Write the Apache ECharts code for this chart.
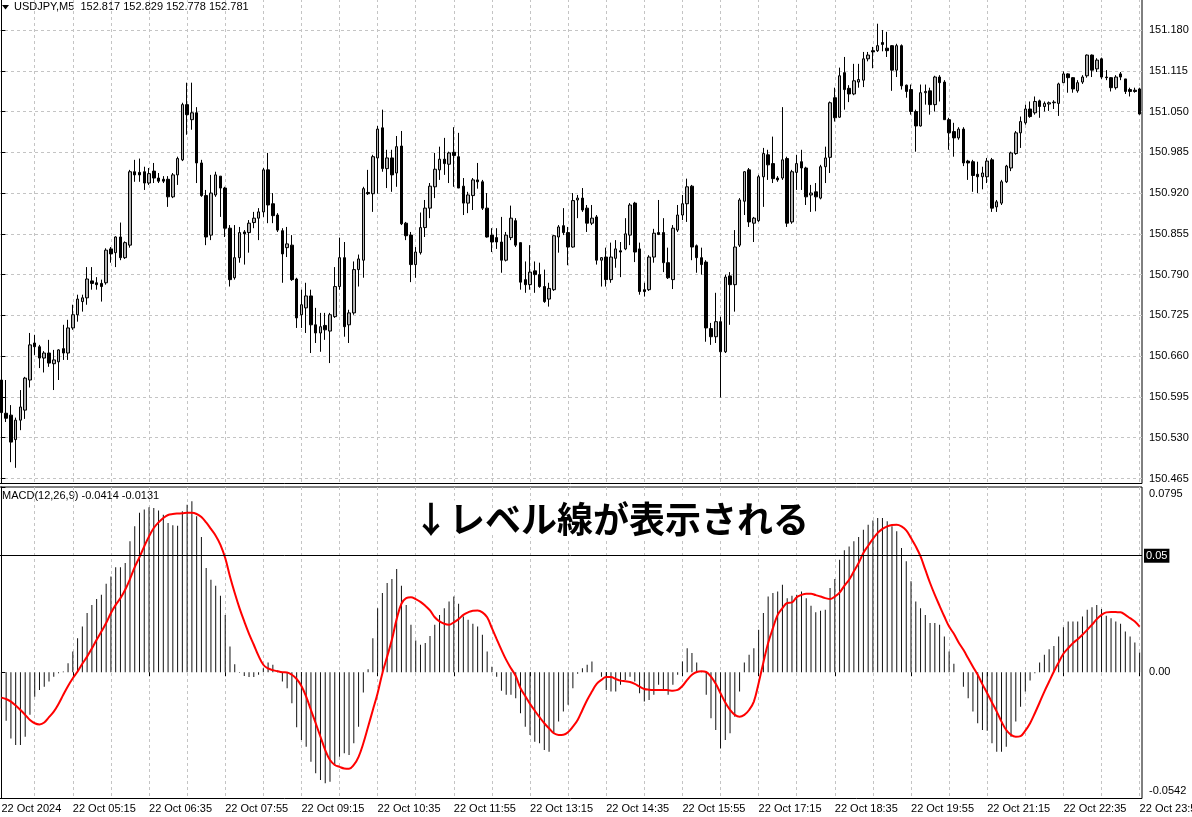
<!DOCTYPE html>
<html><head><meta charset="utf-8">
<script src="https://cdn.jsdelivr.net/npm/echarts@6/dist/echarts.min.js"></script>
<style>html,body{margin:0;padding:0;background:#fff}#c{width:1192px;height:817px}</style>
</head><body><div id="c"></div><script>
const opens=[150.622,150.569,150.566,150.527,150.558,150.574,150.622,150.681,150.675,150.657,
150.665,150.648,150.651,150.672,150.665,150.705,150.726,150.747,150.753,150.780,
150.777,150.776,150.777,150.831,150.825,150.850,150.817,150.837,150.954,150.953,
150.954,150.936,150.955,150.944,150.942,150.942,150.914,150.949,150.973,151.061,
151.037,151.048,150.968,150.916,150.853,150.917,150.947,150.928,150.864,150.785,
150.817,150.858,150.857,150.873,150.880,150.890,150.957,150.903,150.885,150.860,
150.833,150.837,150.783,150.726,150.737,150.756,150.710,150.697,150.709,150.700,
150.723,150.771,150.817,150.710,150.729,150.798,150.813,150.921,150.919,150.976,
151.024,150.959,150.976,150.952,150.995,150.872,150.853,150.806,150.825,150.865,
150.896,150.930,150.957,150.974,150.966,150.985,150.978,150.931,150.904,150.916,
150.941,150.938,150.896,150.853,150.849,150.842,150.813,150.849,150.876,150.841,
150.782,150.774,150.796,150.790,150.771,150.751,150.766,150.850,150.868,150.857,
150.834,150.909,150.912,150.896,150.872,150.882,150.813,150.818,150.782,150.816,
150.828,150.831,150.853,150.904,150.831,150.766,150.766,150.818,150.857,150.857,
150.809,150.782,150.861,150.885,150.903,150.931,150.836,150.817,150.810,150.704,
150.691,150.715,150.667,150.788,150.774,150.837,150.907,150.957,150.872,150.876,
150.946,150.981,150.967,150.944,150.944,150.975,150.874,150.953,150.970,150.960,
150.917,150.922,150.912,150.962,150.977,151.072,151.041,151.112,151.087,151.078,
151.097,151.100,151.134,151.147,151.147,151.160,151.151,151.155,151.116,151.155,
151.092,151.085,151.050,151.027,151.080,151.083,151.061,151.105,151.097,151.037,
151.018,151.008,151.022,150.971,150.970,150.950,150.946,150.946,150.973,150.898,
150.904,150.938,150.960,150.983,151.016,151.032,151.054,151.048,151.067,151.058,
151.062,151.064,151.063,151.096,151.110,151.104,151.083,151.097,151.107,151.140,
151.118,151.134,151.105,151.104,151.088,151.110,151.102,151.085,151.084,151.086];
const closes=[150.570,150.561,150.523,150.558,150.579,150.625,150.678,150.675,150.657,150.665,
150.649,150.654,150.670,150.665,150.705,150.726,150.751,150.753,150.783,150.776,
150.774,150.771,150.829,150.823,150.850,150.817,150.841,150.954,150.949,150.949,
150.936,150.951,150.944,150.939,150.939,150.914,150.949,150.975,151.061,151.045,
151.048,150.968,150.916,150.850,150.920,150.949,150.928,150.864,150.782,150.817,
150.857,150.855,150.872,150.880,150.890,150.957,150.901,150.884,150.861,150.823,
150.839,150.782,150.721,150.742,150.756,150.710,150.697,150.707,150.702,150.726,
150.771,150.817,150.707,150.729,150.798,150.815,150.927,150.919,150.978,151.022,
150.959,150.976,150.949,150.994,150.871,150.852,150.806,150.826,150.865,150.896,
150.931,150.958,150.974,150.967,150.984,150.980,150.928,150.904,150.917,150.941,
150.938,150.896,150.850,150.842,150.842,150.813,150.853,150.880,150.837,150.778,
150.774,150.794,150.790,150.771,150.747,150.768,150.852,150.866,150.857,150.834,
150.908,150.912,150.893,150.872,150.880,150.813,150.817,150.782,150.818,150.831,
150.826,150.855,150.901,150.826,150.763,150.763,150.818,150.856,150.854,150.809,
150.785,150.864,150.885,150.903,150.930,150.834,150.817,150.806,150.705,150.691,
150.715,150.667,150.786,150.774,150.834,150.909,150.954,150.874,150.880,150.946,
150.983,150.965,150.943,150.941,150.973,150.872,150.954,150.967,150.960,150.914,
150.920,150.914,150.962,150.976,151.064,151.040,151.107,151.085,151.078,151.099,
151.101,151.134,151.140,151.145,151.155,151.157,151.147,151.116,151.155,151.091,
151.082,151.050,151.027,151.080,151.082,151.061,151.105,151.096,151.037,151.016,
151.008,151.022,150.968,150.968,150.948,150.946,150.952,150.971,150.896,150.906,
150.938,150.963,150.984,151.016,151.034,151.054,151.042,151.066,151.058,151.063,
151.064,151.065,151.094,151.110,151.104,151.086,151.096,151.105,151.140,151.116,
151.132,151.105,151.104,151.088,151.105,151.105,151.082,151.082,151.082,151.046];
const lows=[150.531,150.555,150.491,150.482,150.542,150.560,150.610,150.662,150.641,150.634,
150.643,150.606,150.622,150.654,150.654,150.702,150.715,150.731,150.742,150.766,
150.766,150.747,150.774,150.809,150.802,150.813,150.815,150.833,150.938,150.938,
150.925,150.933,150.936,150.936,150.936,150.898,150.912,150.933,150.971,151.013,
151.021,150.936,150.914,150.837,150.845,150.914,150.882,150.850,150.771,150.782,
150.809,150.806,150.825,150.864,150.845,150.882,150.872,150.872,150.858,150.777,
150.818,150.780,150.705,150.705,150.697,150.665,150.681,150.667,150.686,150.649,
150.721,150.766,150.691,150.681,150.726,150.771,150.785,150.917,150.890,150.919,
150.954,150.928,150.922,150.930,150.869,150.845,150.778,150.785,150.822,150.850,
150.880,150.912,150.941,150.949,150.936,150.930,150.928,150.885,150.888,150.893,
150.927,150.893,150.849,150.826,150.831,150.793,150.811,150.845,150.834,150.766,
150.761,150.766,150.761,150.769,150.745,150.739,150.764,150.825,150.853,150.805,
150.833,150.880,150.890,150.858,150.869,150.806,150.771,150.771,150.777,150.801,
150.786,150.829,150.837,150.810,150.758,150.755,150.764,150.809,150.853,150.794,
150.783,150.767,150.858,150.877,150.874,150.813,150.793,150.790,150.683,150.678,
150.681,150.594,150.665,150.710,150.731,150.834,150.885,150.866,150.842,150.874,
150.898,150.941,150.936,150.938,150.941,150.866,150.871,150.925,150.925,150.901,
150.890,150.891,150.910,150.936,150.952,151.034,151.040,151.053,151.065,151.076,
151.088,151.089,151.130,151.119,151.145,151.146,151.137,151.083,151.105,151.085,
151.072,151.045,150.986,151.026,151.061,151.045,151.050,151.066,151.037,150.989,
150.978,151.005,150.963,150.941,150.922,150.920,150.926,150.936,150.890,150.890,
150.901,150.936,150.955,150.981,150.992,151.029,151.040,151.045,151.040,151.050,
151.051,151.054,151.043,151.096,151.080,151.080,151.080,151.094,151.104,151.105,
151.113,151.102,151.100,151.082,151.085,151.100,151.078,151.074,151.080,151.045];
const highs=[150.625,150.622,150.582,150.562,150.606,150.627,150.697,150.694,150.678,150.668,
150.686,150.670,150.671,150.710,150.718,150.742,150.758,150.758,150.802,150.802,
150.786,150.782,150.832,150.834,150.851,150.873,150.843,150.957,150.973,150.975,
150.962,150.960,150.968,150.952,150.947,150.947,150.952,150.978,151.064,151.096,
151.096,151.057,150.973,150.925,150.949,150.954,150.947,150.930,150.869,150.869,
150.866,150.861,150.877,150.890,150.896,150.960,150.984,150.920,150.888,150.864,
150.866,150.853,150.785,150.766,150.777,150.766,150.737,150.729,150.729,150.729,
150.802,150.849,150.842,150.734,150.811,150.822,150.930,150.957,150.981,151.027,
151.053,150.989,150.989,151.011,151.019,150.874,150.858,150.834,150.889,150.909,
150.936,150.984,150.994,151.008,150.986,151.025,151.016,150.944,150.922,150.944,
150.968,150.941,150.920,150.864,150.864,150.882,150.858,150.900,150.880,150.841,
150.811,150.837,150.811,150.809,150.798,150.777,150.853,150.869,150.896,150.866,
150.920,150.917,150.928,150.901,150.901,150.885,150.818,150.833,150.841,150.845,
150.842,150.880,150.904,150.906,150.841,150.777,150.821,150.863,150.909,150.880,
150.833,150.869,150.901,150.917,150.943,150.933,150.838,150.833,150.813,150.713,
150.761,150.723,150.790,150.794,150.861,150.912,150.955,150.960,150.882,150.949,
150.992,150.989,151.010,150.947,151.057,150.978,150.957,150.981,150.989,150.962,
150.933,150.936,150.965,150.994,151.066,151.088,151.120,151.137,151.092,151.126,
151.126,151.145,151.145,151.153,151.190,151.180,151.177,151.156,151.158,151.157,
151.093,151.093,151.053,151.093,151.093,151.088,151.107,151.108,151.100,151.040,
151.032,151.025,151.025,150.973,150.973,150.970,150.962,150.976,150.976,150.909,
150.941,150.965,150.986,151.019,151.042,151.061,151.066,151.074,151.069,151.066,
151.066,151.068,151.096,151.114,151.111,151.105,151.100,151.108,151.141,151.141,
151.135,151.136,151.116,151.105,151.108,151.113,151.102,151.088,151.088,151.088];
const macdHist=[-0.0155,-0.0208,-0.0284,-0.0312,-0.0312,-0.0277,-0.0183,-0.0105,-0.0076,-0.0062,
-0.0040,-0.0019,-0.0004,0.0003,0.0039,0.0089,0.0146,0.0196,0.0254,0.0289,
0.0314,0.0332,0.0380,0.0411,0.0451,0.0451,0.0469,0.0562,0.0626,0.0684,
0.0698,0.0708,0.0705,0.0694,0.0676,0.0641,0.0631,0.0629,0.0691,0.0719,
0.0734,0.0669,0.0580,0.0447,0.0397,0.0371,0.0328,0.0246,0.0110,0.0034,
-0.0002,-0.0016,-0.0021,-0.0021,-0.0011,0.0017,0.0042,0.0032,0.0007,-0.0040,
-0.0069,-0.0133,-0.0236,-0.0291,-0.0320,-0.0384,-0.0434,-0.0463,-0.0477,-0.0470,
-0.0398,-0.0363,-0.0348,-0.0355,-0.0305,-0.0234,-0.0087,0.0013,0.0146,0.0275,
0.0340,0.0383,0.0400,0.0443,0.0371,0.0289,0.0204,0.0136,0.0118,0.0125,
0.0156,0.0204,0.0246,0.0275,0.0304,0.0325,0.0294,0.0239,0.0225,0.0208,
0.0196,0.0161,0.0089,0.0024,-0.0019,-0.0079,-0.0097,-0.0097,-0.0112,-0.0176,
-0.0234,-0.0269,-0.0298,-0.0305,-0.0334,-0.0341,-0.0262,-0.0212,-0.0169,-0.0140,
-0.0069,-0.0007,0.0017,0.0032,0.0046,0.0000,-0.0019,-0.0076,-0.0083,-0.0083,
-0.0054,-0.0033,-0.0019,-0.0040,-0.0090,-0.0126,-0.0119,-0.0097,-0.0054,-0.0076,
-0.0097,-0.0054,-0.0011,0.0046,0.0103,0.0082,0.0042,0.0003,-0.0097,-0.0198,
-0.0248,-0.0327,-0.0291,-0.0262,-0.0191,-0.0083,0.0042,0.0075,0.0103,0.0182,
0.0254,0.0325,0.0340,0.0347,0.0375,0.0318,0.0328,0.0332,0.0347,0.0318,
0.0285,0.0257,0.0264,0.0268,0.0361,0.0400,0.0483,0.0523,0.0540,0.0562,
0.0580,0.0612,0.0633,0.0651,0.0662,0.0662,0.0648,0.0626,0.0605,0.0533,
0.0476,0.0390,0.0304,0.0275,0.0246,0.0211,0.0211,0.0204,0.0153,0.0089,
0.0036,0.0000,-0.0062,-0.0112,-0.0169,-0.0219,-0.0248,-0.0251,-0.0305,-0.0341,
-0.0341,-0.0320,-0.0277,-0.0212,-0.0148,-0.0083,-0.0036,-0.0004,0.0042,0.0075,
0.0099,0.0113,0.0153,0.0193,0.0218,0.0218,0.0218,0.0239,0.0268,0.0279,
0.0289,0.0271,0.0242,0.0232,0.0218,0.0208,0.0175,0.0153,0.0128,0.0085];
const macdSignal=[-0.0109,-0.0115,-0.0126,-0.0143,-0.0162,-0.0183,-0.0205,-0.0219,-0.0224,-0.0216,
-0.0193,-0.0169,-0.0136,-0.0097,-0.0059,-0.0026,0.0003,0.0036,0.0067,0.0102,
0.0139,0.0175,0.0211,0.0254,0.0289,0.0318,0.0354,0.0400,0.0451,0.0494,
0.0540,0.0583,0.0619,0.0643,0.0662,0.0675,0.0679,0.0681,0.0682,0.0684,
0.0684,0.0679,0.0666,0.0643,0.0615,0.0586,0.0547,0.0490,0.0411,0.0340,
0.0275,0.0218,0.0165,0.0118,0.0070,0.0032,0.0016,0.0009,0.0004,0.0000,
-0.0001,-0.0011,-0.0029,-0.0059,-0.0105,-0.0162,-0.0219,-0.0277,-0.0334,-0.0377,
-0.0398,-0.0406,-0.0413,-0.0414,-0.0398,-0.0363,-0.0305,-0.0234,-0.0162,-0.0090,
-0.0004,0.0067,0.0140,0.0228,0.0294,0.0318,0.0322,0.0314,0.0302,0.0285,
0.0265,0.0236,0.0218,0.0208,0.0204,0.0214,0.0228,0.0246,0.0257,0.0264,
0.0265,0.0257,0.0236,0.0189,0.0142,0.0096,0.0053,0.0017,-0.0016,-0.0069,
-0.0102,-0.0136,-0.0165,-0.0193,-0.0219,-0.0241,-0.0262,-0.0269,-0.0268,-0.0257,
-0.0234,-0.0205,-0.0162,-0.0119,-0.0083,-0.0050,-0.0033,-0.0021,-0.0021,-0.0029,
-0.0036,-0.0039,-0.0042,-0.0050,-0.0062,-0.0072,-0.0075,-0.0076,-0.0076,-0.0076,
-0.0077,-0.0079,-0.0076,-0.0059,-0.0033,-0.0011,0.0001,0.0004,0.0001,-0.0019,
-0.0050,-0.0090,-0.0130,-0.0162,-0.0183,-0.0191,-0.0183,-0.0162,-0.0126,-0.0047,
0.0042,0.0125,0.0189,0.0246,0.0275,0.0297,0.0300,0.0322,0.0332,0.0337,
0.0337,0.0331,0.0325,0.0318,0.0314,0.0325,0.0342,0.0371,0.0397,0.0433,
0.0469,0.0512,0.0543,0.0572,0.0598,0.0615,0.0626,0.0632,0.0633,0.0626,
0.0609,0.0576,0.0540,0.0497,0.0440,0.0383,0.0332,0.0285,0.0239,0.0196,
0.0165,0.0128,0.0096,0.0060,0.0024,-0.0011,-0.0052,-0.0090,-0.0130,-0.0169,
-0.0212,-0.0248,-0.0269,-0.0277,-0.0274,-0.0251,-0.0219,-0.0176,-0.0130,-0.0083,
-0.0040,0.0003,0.0042,0.0079,0.0103,0.0125,0.0142,0.0161,0.0182,0.0204,
0.0228,0.0246,0.0257,0.0259,0.0258,0.0257,0.0246,0.0232,0.0218,0.0196];
const priceTicks=[150.465,150.530,150.595,150.660,150.725,150.790,150.855,150.920,150.985,151.050,151.115,151.180];
const macdTicks=[0.0795,0,-0.0542];
const levels=[0.05];
const gridBars=[7,15,23,31,39,47,55,63,71,79,87,95,103,111,119,127,135,143,151,159,167,175,183,191,199,207,215,223,231,239];
const firstLabel='22 Oct 2024';
const categories=[];
for(let i=0;i<opens.length;i++){const m=240+5*i;categories.push(String(Math.floor(m/60)).padStart(2,'0')+':'+String(m%60).padStart(2,'0'));}

const FONT='Liberation Sans';
const labelIdx=(i)=>i===0||(i>=15&&(i-15)%16===0);
const dash={color:'#c4c4c4',type:[3,3],width:1};
const candleData=opens.map((o,i)=>[o,closes[i],lows[i],highs[i]]);

const chart=echarts.init(document.getElementById('c'),null,{renderer:'canvas'});
chart.setOption({
  animation:false,
  backgroundColor:'#fff',
  grid:[
    {left:-1,top:-1,width:1143,height:484.5,show:true,borderColor:'#000',borderWidth:1,backgroundColor:'transparent',containLabel:false,outerBoundsMode:'none'},
    {left:-1,top:487,width:1143,height:311.5,show:true,borderColor:'#000',borderWidth:1,backgroundColor:'transparent',containLabel:false,outerBoundsMode:'none'}
  ],
  xAxis:[
    {type:'category',gridIndex:0,data:categories,boundaryGap:true,axisLine:{show:false},axisTick:{show:false},axisLabel:{show:false},splitLine:{show:false}},
    {type:'value',gridIndex:0,min:-0.5,max:categories.length-0.5,axisLine:{show:false},axisTick:{show:false,customValues:gridBars},axisLabel:{show:false},splitLine:{show:true,lineStyle:dash}},
    {type:'category',gridIndex:1,data:categories,boundaryGap:true,axisLine:{show:false},
      axisTick:{show:true,interval:labelIdx,alignWithLabel:true,length:4,lineStyle:{color:'#000'}},
      axisLabel:{show:true,interval:labelIdx,align:'left',margin:5,fontFamily:FONT,fontSize:11,color:'#000',hideOverlap:false,
        formatter:(v,i)=>i===0?firstLabel:'22 Oct '+v},splitLine:{show:false}},
    {type:'value',gridIndex:1,min:-0.5,max:categories.length-0.5,axisLine:{show:false},axisTick:{show:false,customValues:gridBars},axisLabel:{show:false},splitLine:{show:true,lineStyle:dash}}
  ],
  yAxis:[
    {type:'value',gridIndex:0,position:'right',min:150.4570,max:151.2294,
      axisLine:{show:true,lineStyle:{color:'#000'}},
      axisTick:{show:true,length:4,customValues:priceTicks,lineStyle:{color:'#000'}},
      axisLabel:{show:true,customValues:priceTicks,margin:7,fontFamily:FONT,fontSize:11,color:'#000',formatter:v=>v.toFixed(3)},
      splitLine:{show:true,lineStyle:dash}},
    {type:'value',gridIndex:1,position:'right',min:-0.0542,max:0.0795,
      axisLine:{show:true,lineStyle:{color:'#000'}},
      axisTick:{show:true,length:4,customValues:macdTicks,lineStyle:{color:'#000'}},
      axisLabel:{show:true,customValues:macdTicks,margin:7,fontFamily:FONT,fontSize:11,color:'#000',
        formatter:v=>v===0?'0.00':(v>0?'{t|'+v.toFixed(4)+'}':'{b|'+v.toFixed(4)+'}'),
        rich:{t:{fontFamily:FONT,fontSize:11,color:'#000',padding:[14,0,0,0]},b:{fontFamily:FONT,fontSize:11,color:'#000',padding:[0,0,16,0]}}},
      splitLine:{show:false}}
  ],
  series:[
    {type:'candlestick',xAxisIndex:0,yAxisIndex:0,data:candleData,barWidth:3,z:3,
      itemStyle:{color:'#b0b0b0',color0:'#000',borderColor:'#000',borderColor0:'#000',borderWidth:1}},
    {type:'bar',xAxisIndex:2,yAxisIndex:1,data:macdHist,barWidth:1,z:3,itemStyle:{color:'#111'},
      markLine:{silent:true,symbol:['none','none'],animation:false,
        lineStyle:{color:'#000',width:1,type:'solid'},
        label:{show:true,position:'end',distance:2,formatter:p=>String(p.value),color:'#fff',backgroundColor:'#000',padding:[2,2,1,2],fontFamily:FONT,fontSize:11},
        data:levels.map(v=>({yAxis:v}))}},
    {type:'line',xAxisIndex:2,yAxisIndex:1,data:macdSignal,smooth:0.4,showSymbol:false,symbol:'none',z:4,
      lineStyle:{color:'#ff0000',width:2}}
  ],
  graphic:[
    {type:'polygon',shape:{points:[[2,5],[9,5],[5.5,9.5]]},style:{fill:'#000'}},
    {type:'text',left:14,top:1,style:{text:'USDJPY,M5  152.817 152.829 152.778 152.781',fontFamily:FONT,fontSize:11,fill:'#000'}},
    {type:'text',left:2,top:490,style:{text:'MACD(12,26,9) -0.0414 -0.0131',fontFamily:FONT,fontSize:11,fill:'#000'}},
    {type:'text',x:413,y:519,z:50,style:{text:'↓レベル線が表示される',fontFamily:'Noto Sans CJK JP',fontWeight:'bold',fontSize:36,
      fill:'#fff',stroke:'#fff',lineWidth:9,lineJoin:'round',textVerticalAlign:'middle',
      shadowColor:'rgba(0,0,0,0.45)',shadowBlur:7,shadowOffsetX:2,shadowOffsetY:3}},
    {type:'text',x:413,y:519,z:51,style:{text:'↓レベル線が表示される',fontFamily:'Noto Sans CJK JP',fontWeight:'bold',fontSize:36,
      fill:'#000',textVerticalAlign:'middle'}}
  ]
});
</script></body></html>
